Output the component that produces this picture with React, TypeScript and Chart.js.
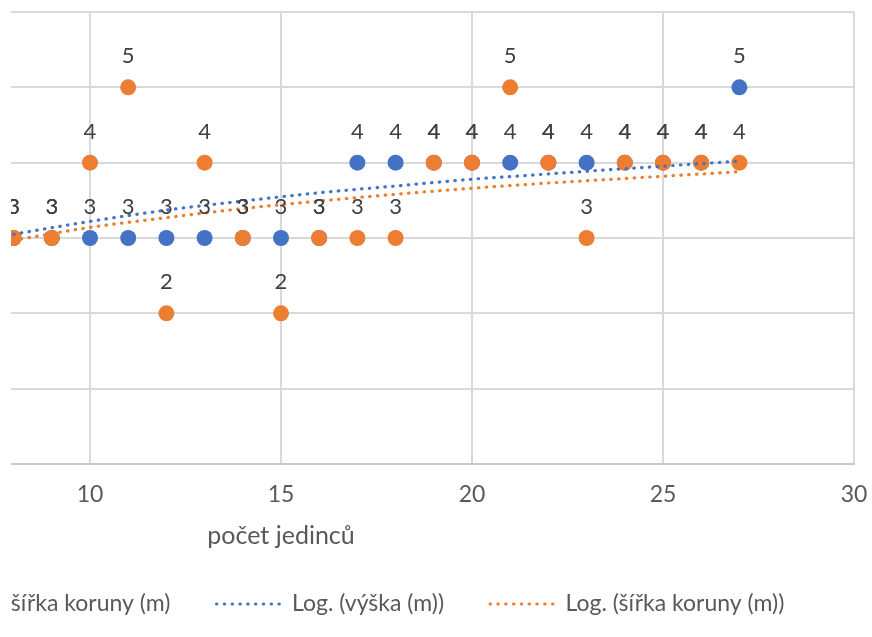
import React, { useEffect, useRef } from "react";
import { Chart, registerables } from "chart.js";

Chart.register(...registerables);

// ---- data ----
const xValues = [8, 9, 10, 11, 12, 13, 14, 15, 16, 17, 18, 19, 20, 21, 22, 23, 24, 25, 26, 27];
const heightValues = [3, 3, 3, 3, 3, 3, 3, 3, 3, 4, 4, 4, 4, 4, 4, 4, 4, 4, 4, 5];
const crownValues = [3, 3, 4, 5, 2, 4, 3, 2, 3, 3, 3, 4, 4, 5, 4, 3, 4, 4, 4, 4];
const trendX = [8, 10, 12, 14, 16, 18, 20, 22, 24, 27];
const heightTrend = [3.05, 3.22, 3.37, 3.49, 3.6, 3.69, 3.78, 3.85, 3.92, 4.02];
const crownTrend = [2.97, 3.14, 3.27, 3.39, 3.49, 3.58, 3.66, 3.73, 3.79, 3.88];
const seriesNames = ["výška (m)", "šířka koruny (m)", "Log. (výška (m))", "Log. (šířka koruny (m))"];
const xAxisTitle = "počet jedinců";
const xMin = 0;
const xMax = 30;
const xStep = 5;
const yMin = 0;
const yMax = 6;
const yStep = 1;

// ---- style / layout ----
const BLUE = "#4472C4";
const ORANGE = "#ED7D31";
const FONT = "Lato";
const HIDDEN = 322; // part of the canvas to the left of the visible crop
const CANVAS_W = 1194;
const CANVAS_H = 637;
const DOT_DASH = [0.5, 7.3];
const LEGEND_SHIFT = 13.5;

const pts = (xs: number[], ys: number[]) => xs.map((x, i) => ({ x, y: ys[i] }));

const labelPlugin = {
  id: "pointLabels",
  afterDatasetsDraw(chart: any) {
    const ctx = chart.ctx;
    ctx.save();
    ctx.font = `22px ${FONT}`;
    ctx.fillStyle = "#404040";
    ctx.textAlign = "center";
    ctx.textBaseline = "middle";
    chart.data.datasets.forEach((ds: any, i: number) => {
      if (ds.showLine) return;
      const meta = chart.getDatasetMeta(i);
      meta.data.forEach((el: any, j: number) => {
        ctx.fillText(String(ds.data[j].y), el.x, el.y - 31);
      });
    });
    ctx.restore();
  },
};

const legendShiftPlugin = {
  id: "legendShift",
  afterLayout(chart: any) {
    if (chart.legend) {
      chart.legend.left -= LEGEND_SHIFT;
      chart.legend.right -= LEGEND_SHIFT;
    }
  },
};

const cropPlugin = {
  id: "cropMask",
  afterDraw(chart: any) {
    const ctx = chart.ctx;
    ctx.save();
    ctx.fillStyle = "#ffffff";
    ctx.fillRect(0, 0, HIDDEN + 11, chart.chartArea.bottom + 2);
    ctx.restore();
  },
};

export default function App() {
  const ref = useRef<HTMLCanvasElement | null>(null);
  useEffect(() => {
    if (!ref.current) return;
    const chart = new Chart(ref.current, {
      type: "scatter",
      data: {
        datasets: [
          {
            label: seriesNames[0],
            data: pts(xValues, heightValues),
            backgroundColor: BLUE,
            borderColor: BLUE,
            pointRadius: 8,
            pointHoverRadius: 8,
            borderWidth: 0,
            order: 3,
          },
          {
            label: seriesNames[1],
            data: pts(xValues, crownValues),
            backgroundColor: ORANGE,
            borderColor: ORANGE,
            pointRadius: 8,
            pointHoverRadius: 8,
            borderWidth: 0,
            order: 2,
          },
          {
            label: seriesNames[2],
            data: pts(trendX, heightTrend),
            showLine: true,
            borderColor: BLUE,
            backgroundColor: BLUE,
            borderWidth: 3.2,
            borderDash: DOT_DASH,
            borderCapStyle: "round",
            pointRadius: 0,
            cubicInterpolationMode: "monotone",
            order: 0,
          },
          {
            label: seriesNames[3],
            data: pts(trendX, crownTrend),
            showLine: true,
            borderColor: ORANGE,
            backgroundColor: ORANGE,
            borderWidth: 3.2,
            borderDash: DOT_DASH,
            borderCapStyle: "round",
            pointRadius: 0,
            cubicInterpolationMode: "monotone",
            order: 1,
          },
        ] as any,
      },
      options: {
        animation: false,
        responsive: false,
        devicePixelRatio: 1,
        layout: { padding: { left: 0, right: 18, top: 12, bottom: 11.5 } },
        plugins: {
          tooltip: { enabled: false },
          legend: {
            position: "bottom",
            labels: {
              usePointStyle: true,
              pointStyleWidth: 64,
              padding: 46,
              color: "#595959",
              font: { family: FONT, size: 23 },
              generateLabels: (c: any) =>
                c.data.datasets.map((ds: any, i: number) => ({
                  text: ds.label,
                  fillStyle: ds.showLine ? "rgba(0,0,0,0)" : ds.backgroundColor,
                  strokeStyle: ds.borderColor,
                  lineWidth: ds.showLine ? 3 : 0,
                  lineDash: ds.showLine ? DOT_DASH : [],
                  lineCap: "round",
                  pointStyle: ds.showLine ? "line" : "circle",
                  fontColor: "#595959",
                  hidden: false,
                  datasetIndex: i,
                })),
            },
          },
        },
        scales: {
          x: {
            type: "linear",
            min: xMin,
            max: xMax,
            ticks: {
              stepSize: xStep,
              color: "#595959",
              font: { family: FONT, size: 23 },
              padding: 17,
            },
            grid: { color: "#D9D9D9", drawTicks: false, lineWidth: 2 },
            border: { color: "#C8C8C8", width: 2 },
            title: {
              display: true,
              text: xAxisTitle,
              color: "#595959",
              font: { family: FONT, size: 25 },
              padding: { top: 0, bottom: -4.5 },
            },
            afterFit: (s: any) => {
              s.height = 82.5;
              s.paddingLeft = 0;
              s.paddingRight = 0;
            },
          },
          y: {
            min: yMin,
            max: yMax,
            ticks: {
              stepSize: yStep,
              color: "#595959",
              font: { family: FONT, size: 23 },
            },
            grid: { color: "#D9D9D9", drawTicks: false, lineWidth: 2 },
            border: { display: false },
            afterFit: (s: any) => {
              s.width = 30;
              s.paddingTop = 0;
              s.paddingBottom = 0;
            },
          },
        },
      } as any,
      plugins: [labelPlugin, legendShiftPlugin, cropPlugin],
    });
    return () => chart.destroy();
  }, []);

  return (
    <div
      style={{
        position: "absolute",
        left: 0,
        top: 0,
        width: 872,
        height: 637,
        overflow: "hidden",
        background: "#ffffff",
      }}
    >
      <canvas
        ref={ref}
        width={CANVAS_W}
        height={CANVAS_H}
        style={{ position: "absolute", left: -HIDDEN, top: 0, width: CANVAS_W, height: CANVAS_H }}
      />
    </div>
  );
}
